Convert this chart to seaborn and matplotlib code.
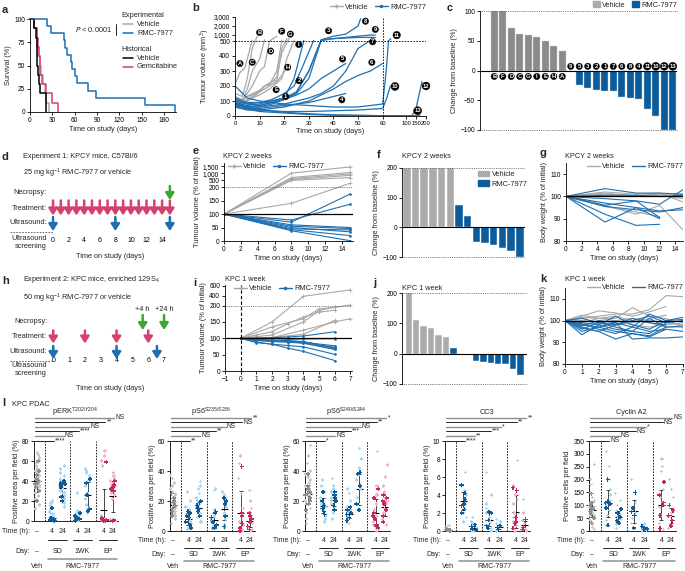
import numpy as np
import pandas as pd
import matplotlib
matplotlib.use('Agg')
import matplotlib.pyplot as plt
import seaborn as sns
from matplotlib.lines import Line2D
from matplotlib.patches import Patch

# ---------------- data ----------------
# a: Kaplan-Meier event times (days)
a_vehicle_days = [6, 9, 10, 11, 13, 15, 17, 20, 22, 26]
a_rmc_days = [23, 28, 45, 47, 49, 55, 57, 60, 63, 78, 88, 155, 195]
a_hist_vehicle_days = [5, 8, 9, 10, 10, 11, 12, 13, 21, 21]
a_gem_days = [5, 9, 11, 12, 13, 14, 16, 21, 29, 37]

# b: individual tumour volumes (mm3)
b_vehicle_ids = ['A', 'B', 'C', 'D', 'E', 'F', 'G', 'H', 'I']
b_vehicle_days = [[0, 2, 4, 7], [0, 3, 5, 7, 9], [0, 3, 5, 7, 10, 12],
                  [0, 3, 5, 7, 10, 12, 14, 17], [0, 3, 5, 7, 10, 12, 14, 17, 19],
                  [0, 3, 5, 7, 10, 12, 14, 17, 19, 21], [0, 3, 5, 7, 10, 12, 14, 17, 19, 22],
                  [0, 3, 5, 7, 10, 12, 14, 17, 19, 21], [0, 3, 5, 7, 10, 12, 14, 17, 19, 21, 24]]
b_vehicle_vols = [[210, 290, 320, 560], [150, 130, 250, 450, 900], [120, 100, 180, 300, 380, 600],
                  [130, 110, 150, 200, 300, 330, 500, 900], [100, 90, 110, 130, 170, 200, 210, 300, 560],
                  [90, 80, 100, 120, 160, 200, 220, 240, 450, 700], [120, 110, 130, 150, 170, 200, 210, 260, 420, 750],
                  [110, 100, 130, 140, 160, 180, 200, 230, 270, 320], [100, 90, 100, 120, 140, 160, 180, 220, 250, 380, 560]]
b_rmc_ids = ['1', '2', '3', '4', '5', '6', '7', '8', '9', '10', '11', '12', '13']
b_rmc_days = [[0, 5, 10, 15, 20, 24, 28], [0, 5, 10, 15, 20, 24, 28, 32],
              [0, 5, 10, 15, 20, 25, 30, 35, 40, 45, 50, 55, 57], [0, 5, 10, 15, 20, 25, 30, 35, 40, 45],
              [0, 5, 10, 15, 20, 25, 30, 35, 40, 45], [0, 5, 10, 15, 20, 25, 30, 35, 40, 45, 50, 55, 60],
              [0, 5, 10, 15, 20, 25, 30, 35, 40, 45, 50, 55], [0, 5, 10, 15, 20, 25, 30, 35, 40, 45, 50, 51],
              [0, 5, 10, 15, 20, 25, 30, 35, 40, 45, 50, 57], [0, 5, 10, 20, 30, 40, 50, 60, 67, 73],
              [0, 5, 10, 20, 30, 40, 50, 60, 66, 70, 74], [0, 10, 20, 30, 40, 60, 100, 130, 150, 180],
              [0, 10, 20, 30, 40, 50, 60, 100, 150, 170]]
b_rmc_vols = [[90, 70, 80, 100, 120, 250, 560], [110, 80, 90, 110, 150, 200, 350, 560],
              [80, 60, 60, 80, 110, 160, 300, 560, 700, 800, 900, 1000, 1000], [70, 50, 50, 60, 70, 80, 90, 110, 130, 150],
              [100, 80, 70, 90, 110, 140, 180, 250, 300, 350], [60, 40, 40, 50, 60, 80, 100, 140, 180, 230, 270, 300, 350],
              [90, 60, 60, 70, 80, 100, 120, 150, 200, 300, 450, 560], [120, 90, 90, 100, 120, 160, 300, 600, 900, 1100, 2000, 2800],
              [80, 60, 70, 90, 110, 150, 250, 550, 700, 750, 800, 800], [80, 50, 40, 30, 30, 35, 40, 50, 120, 200],
              [200, 120, 100, 80, 70, 60, 60, 80, 300, 520, 700], [60, 30, 20, 10, 5, 2, 2, 2, 50, 230],
              [70, 40, 25, 15, 8, 5, 2, 2, 2, 2]]
b_vehicle_label_at = [(2, 350), (10, 1280), (7, 358), (14.5, 433), (16.7, 175), (19, 1430), (22.5, 1100), (21.4, 325), (25.9, 477)]
b_rmc_label_at = [(20.6, 130), (26, 235), (38, 1470), (43.4, 108), (43.7, 380), (55.6, 358), (55.9, 495), (53, 2530),
                  (57, 1620), (81, 197), (84, 990), (200, 200), (158, 35)]

# c: best response (%)
c_vehicle_ids = ['B', 'F', 'D', 'C', 'G', 'I', 'E', 'H', 'A']
c_vehicle_vals = [100, 100, 72, 62, 60, 57, 50, 42, 32]
c_rmc_ids = ['9', '5', '3', '2', '1', '7', '6', '8', '4', '11', '10', '12', '13']
c_rmc_vals = [-1, -25, -30, -33, -34, -35, -45, -46, -48, -64, -77, -100, -100]

# d / h: schedules (days)
d_treatment = list(range(16))
d_ultrasound = [0, 8, 15]
d_necropsy = [15]
h_treatment = [0, 2, 4, 6]
h_ultrasound = [0, 4, 6.55]
h_necropsy = [5.65, 7.0]

# e: KPCY tumour volume (% of initial)
e_days = [0, 8, 15]
e_vehicle = [[100, 1000, 1450], [100, 700, 1050], [100, 620, 950], [100, 560, 850], [100, 500, 700], [100, 140, 380]]
e_rmc = [[100, 70, 175], [100, 78, 137], [100, 60, 50], [100, 55, 46], [100, 45, 41], [100, 50, 34], [100, 42, 20], [100, 38, 1]]

# f: KPCY change from baseline (%)
f_vehicle = [200, 200, 200, 200, 200, 200]
f_rmc = [75, 37, -49, -54, -59, -70, -80, -99]

# g: KPCY body weight (% of initial)
g_days = [0, 5, 9, 12, 15]
g_vehicle = [[100, 101, 100.5, 101, 101], [100, 102, 101, 101.5, 97.5], [100, 96, 92, 96, 85],
             [100, 95.5, 93, 91], [100, 100, 100, 100, 100], [100, 101.5, 100, 100.5, 99]]
g_rmc = [[100, 103.5, 101.5, 101.5, 101], [100, 99, 98, 96.5, 103], [100, 88.5, 95, 90], [100, 92, 87, 87.5],
         [100, 96, 98, 90.5], [100, 97, 95, 93.5, 94], [100, 95.5, 94, 93, 95], [100, 100.5, 100.5, 100, 100.5]]

# i: KPC tumour volume (% of initial)
i_vehicle_days = [[0, 2, 4, 7], [0, 2, 4, 5, 6, 7], [0, 2, 4, 5, 6], [0, 1, 2, 3, 4, 5, 6], [0, 2, 4, 6, 7], [0, 2, 4, 6]]
i_vehicle = [[100, 150, 390, 520], [100, 110, 150, 185, 195, 212], [100, 135, 160, 190, 195],
             [100, 110, 120, 145, 165, 180, 186], [100, 102, 125, 150, 160], [100, 103, 112, 155]]
i_rmc_days = [0, 1, 2, 3, 4, 6]
i_rmc = [[100, 101, 102, 104, 107, 120], [100, 100, 100, 100, 100, 100], [100, 98, 99, 97, 98, 99],
         [100, 95, 92, 90, 88, 77], [100, 97, 94, 92, 89, 72], [100, 96, 93, 93, 90, 70],
         [100, 94, 92, 90, 86, 67], [100, 93, 90, 88, 85, 66], [100, 87, 82, 78, 74, 51], [100, 88, 82, 70, 60, 32]]

# j: KPC change from baseline (%)
j_vehicle = [200, 112, 92, 86, 60, 55]
j_rmc = [20, -1, -1, -23, -28, -30, -33, -34, -49, -71]

# k: KPC body weight (% of initial)
k_days = [0, 1, 2, 3, 4, 5, 6, 7]
k_vehicle = [[100, 101, 102, 103, 103, 105, 111.5, 111], [100, 102, 104.5, 103.5, 102, 104, 106.5],
             [100, 101.5, 101, 101, 106, 102, 101, 96.5], [100, 98, 99, 100, 101, 100, 99, 98],
             [100, 99, 101, 102, 100, 99, 97, 97], [100, 100, 99.5, 98, 99, 101, 102.5],
             [100, 102.5, 101, 100, 98, 97, 98, 99]]
k_rmc = [[100, 93.5, 98, 96, 95, 101, 97], [100, 97, 95, 91.5, 94, 93, 97, 97.5],
         [100, 95, 97, 99, 91.5, 92, 92, 92.5], [100, 99, 98, 102, 98, 96, 100, 101.5],
         [100, 96, 99, 97, 95, 94, 99], [100, 97.5, 100, 99, 97, 103, 100, 100.5],
         [100, 98.5, 96, 94, 97, 95, 96], [100, 101, 99, 98, 100, 102, 99, 100],
         [100, 96.5, 95, 98, 101, 99, 98], [100, 98, 97, 95, 94, 92.5, 96, 95]]

# l: KPC PDAC IHC quantification
l_groups = ['Veh', 'SD4', 'SD24', '1WK4', '1WK24', 'EP4', 'EP24']
l_time = ['–', '4', '24', '4', '24', '4', '24']
perk_light = [[12, 16, 20, 22, 25, 28, 30, 31, 33, 34, 35, 36, 37, 38, 40, 41, 42, 44, 46, 48, 50, 52, 55, 58, 60, 63, 66, 68, 28, 45],
              [0, 0.5, 1, 1.5, 2, 3, 4, 5, 7, 9, 12, 15, 18, 20],
              [14, 18, 22, 25, 28, 30, 32, 34, 36, 38, 40, 42, 45, 48, 52, 55],
              [0, 0.5, 1, 2, 3, 4, 5, 6, 8, 10, 28],
              [8, 12, 16, 22, 28, 35, 40, 45, 48, 50, 52],
              [0, 0.5, 1, 1.5, 2, 3, 5, 55, 60, 65, 70],
              [0, 1, 22, 26, 28, 30, 32, 34, 35, 36, 38, 40, 42, 45, 48]]
perk_dark = [[20, 30, 34, 37, 38, 40, 42, 46, 50, 60], [0, 1, 1.5, 2, 3, 13], [20, 24, 34, 36, 37, 38, 40],
             [0, 1, 2, 3, 5, 8], [10, 12, 26, 38, 42], [0, 0.5, 1, 2, 3, 59], [0, 1, 30, 32, 34, 36, 40]]
perk_sig = ['****', 'NS', '****', 'NS', '**', 'NS']
ps6a_light = [[5, 8, 10, 11, 12, 13, 14, 15, 16, 17, 18, 19, 20, 21, 22, 23, 24, 25, 26, 28, 30, 32, 35, 37],
              [1, 2, 3, 5, 6, 8, 10, 12, 14, 16, 20, 26],
              [6, 9, 12, 14, 16, 18, 20, 22, 25, 28, 30, 33],
              [1, 2, 3, 4, 6, 8, 10, 14, 27, 28],
              [2, 4, 8, 12, 16, 20, 24, 26],
              [0, 1, 2, 4, 6, 10, 15, 25, 35, 45, 50],
              [0, 1, 3, 5, 7, 9, 12, 15, 20, 27]]
ps6a_dark = [[10, 13, 15, 17, 19, 20, 22, 25], [2, 4, 6, 9, 10, 12, 13], [10, 13, 15, 17, 19, 20],
             [2, 4, 6, 9, 12, 13], [3, 10, 18, 20, 22], [0, 2, 5, 10, 12, 43], [1, 3, 6, 8, 10, 12]]
ps6a_sig = ['**', 'NS', '**', 'NS', 'NS', '**']
ps6b_light = [[5, 8, 12, 15, 18, 20, 22, 24, 25, 26, 27, 28, 30, 32, 34, 36, 38, 40, 45, 50, 57, 20, 24],
              [6, 8, 10, 12, 14, 16, 18, 20, 22, 26, 30, 34],
              [8, 12, 15, 18, 20, 22, 24, 26, 28, 30, 35],
              [5, 8, 10, 12, 14, 16, 20, 25, 28],
              [14, 18, 22, 28, 34, 38, 42, 48, 55],
              [0, 2, 4, 6, 8, 10, 14, 18, 24, 30, 53],
              [4, 8, 12, 15, 18, 20, 22, 26, 30, 36, 44]]
ps6b_dark = [[14, 18, 20, 22, 24, 25, 26, 28, 30, 38], [11, 13, 15, 17, 20, 26], [14, 17, 20, 22, 24, 26],
             [7, 9, 11, 12, 14, 16], [14, 18, 30, 38, 39], [2, 4, 8, 10, 12, 22, 28], [6, 10, 14, 18, 20, 22, 24]]
ps6b_sig = ['*', 'NS', '***', 'NS', '**', '*']
cc3_light = [[0, 0.05, 0.1, 0.1, 0.15, 0.2, 0.2, 0.3, 0.4, 0.5, 0.6],
             [1, 1.5, 2, 2.5, 3, 3.5, 4, 4.5, 5, 6.5],
             [0, 0.1, 0.2, 0.4, 0.6, 0.8, 1, 1.5],
             [0, 0.3, 0.6, 1, 1.5, 2, 2.5, 3, 4, 6.5],
             [0, 0.2, 0.4, 0.6, 0.8, 1, 1.3],
             [0, 0.3, 0.6, 1, 1.5, 2, 3, 3.5, 4, 4.5, 5, 7.8],
             [0, 0.2, 0.5, 0.8, 1.2, 2, 3.5]]
cc3_dark = [[0.05, 0.1, 0.15, 0.2], [2, 2.4, 2.8, 3, 3.5, 4.2, 5.1], [0.1, 0.2, 0.3, 0.5, 0.7],
            [0.3, 0.6, 1.2, 2, 2.1], [0.2, 0.4, 0.6], [0.3, 0.8, 1, 1.5, 4.5, 4.8], [0.2, 0.4, 1.3]]
cc3_sig = ['****', '**', '***', '*', '**', '**']
cyc_light = [[5, 15, 25, 35, 45, 55, 60, 65, 70, 75, 80, 85, 90, 95, 100, 105, 110, 120, 130, 150, 180, 200, 260, 40, 60, 90],
             [20, 40, 60, 80, 100, 110, 120, 140, 160, 200, 250, 310],
             [10, 25, 35, 45, 55, 65, 80, 100, 120, 145],
             [10, 30, 50, 70, 80, 90, 110, 150, 200],
             [0, 3, 6, 10, 14, 18, 24, 30],
             [5, 30, 60, 90, 110, 130, 160, 190, 230, 250, 280],
             [10, 25, 40, 55, 70, 85, 100, 130, 160, 200]]
cyc_dark = [[30, 50, 65, 75, 80, 85, 90, 100, 110, 145], [22, 90, 105, 110, 115, 200], [30, 40, 55, 70, 85],
            [12, 60, 75, 90, 150], [5, 8, 12, 18], [10, 60, 100, 110, 140, 190], [20, 40, 60, 80, 100]]
cyc_sig = ['NS', 'NS', 'NS', '*', 'NS', 'NS']

# ---------------- style ----------------
sns.set_style('ticks')
plt.rcParams['font.family'] = ['Liberation Sans', 'DejaVu Sans']
plt.rcParams.update({'font.size': 5.3, 'axes.linewidth': 0.6, 'axes.edgecolor': 'black',
                     'xtick.color': 'black', 'ytick.color': 'black',
                     'xtick.major.width': 0.6, 'ytick.major.width': 0.6,
                     'xtick.major.size': 2, 'ytick.major.size': 2,
                     'xtick.major.pad': 1.5, 'ytick.major.pad': 1.5,
                     'xtick.labelsize': 4.7, 'ytick.labelsize': 4.7, 'axes.labelsize': 5.3,
                     'axes.labelpad': 1.5, 'mathtext.default': 'regular', 'legend.fontsize': 5.3})

GREY = '#a8a8a8'
BLUE = '#1f6fb0'
BAR_GREY = '#8a8a8a'
BAR_GREY_L = '#ababab'
BAR_BLUE = '#0b5c9c'
PINK = '#d4416d'
GREEN = '#3fa535'

W, H = 685, 571
fig = plt.figure(figsize=(W / 100, H / 100), dpi=100)


def box(l, t, r, b):
    return fig.add_axes([l / W, 1 - b / H, (r - l) / W, (b - t) / H])


def ftext(x, y, s, **kw):
    kw.setdefault('va', 'center')
    fig.text(x / W, 1 - y / H, s, **kw)


def piecewise(ax, axis, knots, mapped):
    fwd = lambda v: np.interp(v, knots, mapped)
    inv = lambda v: np.interp(v, mapped, knots)
    if axis == 'x':
        ax.set_xscale('function', functions=(fwd, inv))
    else:
        ax.set_yscale('function', functions=(fwd, inv))


def long_df(days_list, vals_list, group):
    rows = []
    for m, (dd, vv) in enumerate(zip(days_list, vals_list)):
        for d, v in zip(dd, vv):
            rows.append((group, f'{group}{m}', d, v))
    return pd.DataFrame(rows, columns=['grp', 'mouse', 'day', 'val'])


def lines(ax, df, color, marker=None, lw=0.8):
    kw = {}
    if marker:
        kw = dict(marker=marker, markersize=2.5, markeredgecolor=color, markerfacecolor=color, markeredgewidth=0.6)
    sns.lineplot(data=df, x='day', y='val', units='mouse', estimator=None, color=color,
                 lw=lw, legend=False, ax=ax, **kw)


def circle_label(ax, x, y, s, fs=4.2):
    ax.text(x, y, s, ha='center', va='center', color='white', fontsize=fs, fontweight='bold', clip_on=False,
            bbox=dict(boxstyle='circle,pad=0.12', fc='black', ec='black', lw=0.3))


def line_legend(ax, marker=False, **kw):
    h = [Line2D([], [], color=GREY, lw=1, marker='+' if marker else None, markersize=3),
         Line2D([], [], color=BLUE, lw=1, marker='.' if marker else None, markersize=3)]
    ax.legend(h, ['Vehicle', 'RMC-7977'], ncol=2, frameon=False, handlelength=1.8, handletextpad=0.3,
              columnspacing=0.8, borderpad=0, borderaxespad=0, **kw)


for lab, x, y in [('a', 2, 10), ('b', 192, 8), ('c', 447, 8), ('d', 2, 157), ('e', 193, 151), ('f', 377, 155),
                  ('g', 539, 153), ('h', 2, 281), ('i', 193, 283), ('j', 373, 283), ('k', 540, 279), ('l', 2, 403)]:
    ftext(x, y, lab, fontsize=8, fontweight='bold')

# ---------------- a ----------------
ax = box(30, 19, 176, 112)
for days, col in [(a_vehicle_days, GREY), (a_gem_days, PINK), (a_hist_vehicle_days, 'black'), (a_rmc_days, BLUE)]:
    n = len(days)
    xs = [0] + sorted(days)
    ys = [100 - 100 * i / n for i in range(n + 1)]
    ax.step(xs, ys, where='post', color=col, lw=1.1, clip_on=False)
ax.set_xlim(0, 196)
ax.set_ylim(0, 100)
ax.set_xticks(range(0, 181, 30))
ax.set_yticks([0, 25, 50, 75, 100])
ax.set_xlabel('Time on study (days)')
ax.set_ylabel('Survival (%)')
sns.despine(ax=ax)
tr = ax.transAxes
ax.text(0.623, 1.043, 'Experimental', transform=tr, va='center')
ax.text(0.623, 0.677, 'Historical', transform=tr, va='center')
for fy, col, lab in [(0.946, GREY, 'Vehicle'), (0.849, BLUE, 'RMC-7977'), (0.58, 'black', 'Vehicle'), (0.484, PINK, 'Gemcitabine')]:
    ax.plot([0.637, 0.705], [fy, fy], color=col, lw=1.1, transform=tr, clip_on=False)
    ax.text(0.733, fy, lab, transform=tr, va='center')
ax.plot([0.59, 0.59], [0.83, 0.95], color='black', lw=0.6, transform=tr, clip_on=False)
ax.text(0.56, 0.885, '$\\it{P}$ < 0.0001', transform=tr, va='center', ha='right')

# ---------------- b ----------------
ax = box(235, 17, 426, 116)
lines(ax, long_df(b_vehicle_days, b_vehicle_vols, 'veh'), GREY, lw=0.9)
lines(ax, long_df(b_rmc_days, b_rmc_vols, 'rmc'), BLUE, lw=0.9)
piecewise(ax, 'x', [-100, 0, 60, 100, 200, 400], [-100, 0, 60, 69.5, 77.6, 93.8])
piecewise(ax, 'y', [-1000, 0, 500, 1000, 3000, 5000], [-1000, 0, 500, 540, 660, 780])
ax.set_xlim(0, 200)
ax.set_ylim(0, 3000)
ax.set_xticks([0, 10, 20, 30, 40, 50, 60, 100, 150, 200])
ax.set_yticks([0, 100, 200, 300, 400, 500, 1000, 2000, 3000])
ax.set_yticklabels(['0', '100', '200', '300', '400', '500', '1,000', '2,000', '3,000'])
ax.tick_params(axis='x', labelsize=4.2)
ax.axhline(500, color='black', lw=0.6, ls=(0, (2, 1.5)))
ax.axvline(60, color='black', lw=0.6, ls=(0, (2, 1.5)))
for (x, y), s in zip(b_vehicle_label_at, b_vehicle_ids):
    circle_label(ax, x, y, s)
for (x, y), s in zip(b_rmc_label_at, b_rmc_ids):
    circle_label(ax, x, y, s)
ax.set_xlabel('Time on study (days)')
ax.set_ylabel('Tumour volume (mm$^3$)')
sns.despine(ax=ax)
line_legend(ax, marker=True, loc='lower right', bbox_to_anchor=(1.0, 1.06))

# ---------------- c ----------------
ax = box(480, 11, 677, 130)
c_vals = c_vehicle_vals + c_rmc_vals
c_grp = ['Vehicle'] * len(c_vehicle_vals) + ['RMC-7977'] * len(c_rmc_vals)
sns.barplot(x=list(range(len(c_vals))), y=c_vals, hue=c_grp, palette={'Vehicle': BAR_GREY, 'RMC-7977': BAR_BLUE},
            dodge=False, width=0.86, saturation=1, legend=False, ax=ax, edgecolor='#d0d0d0', linewidth=0.3)
ax.set_xlim(-1.68, 21.5)
ax.set_ylim(-100, 100)
for yy in (100, -100):
    ax.axhline(yy, color='#555555', lw=0.6, ls=(0, (1, 1.2)), clip_on=False)
ax.axhline(0, color='black', lw=0.8)
for i, s in enumerate(c_vehicle_ids):
    circle_label(ax, i, -10, s)
for i, s in enumerate(c_rmc_ids):
    circle_label(ax, i + len(c_vehicle_ids), 7, s)
ax.set_xticks([])
ax.set_yticks([-100, -50, 0, 50, 100])
ax.set_ylabel('Change from baseline (%)')
sns.despine(ax=ax, bottom=True)
ax.legend([Patch(color=BAR_GREY_L), Patch(color=BAR_BLUE)], ['Vehicle', 'RMC-7977'], ncol=2, frameon=False,
          loc='lower right', bbox_to_anchor=(1.0, 1.02), handlelength=1.0, handleheight=0.8, handletextpad=0.3,
          columnspacing=0.8, borderpad=0, borderaxespad=0)


# ---------------- d / h schematics ----------------
def arrow(ax, x, y0, y1, col):
    ax.annotate('', xy=(x, y1), xytext=(x, y0), annotation_clip=False,
                arrowprops=dict(arrowstyle='-|>,head_width=0.32,head_length=0.5', mutation_scale=8,
                                color=col, lw=1.8, shrinkA=0, shrinkB=0))


def schedule(ax, rows, dash_y, dash_x0, screen_y):
    x_lab = -0.8 * (ax.get_xlim()[1] - ax.get_xlim()[0]) / 16.7
    for name, y in rows:
        ax.text(x_lab, y, name, ha='right', va='center')
    ax.plot([dash_x0, 0], [dash_y, dash_y], color='#555555', lw=0.6, ls=(0, (2, 1.5)), clip_on=False)
    ax.text(x_lab, screen_y, 'Ultrasound\nscreening', ha='right', va='center', multialignment='right', linespacing=1.3)
    ax.tick_params(axis='x', length=0, pad=1, labelsize=5)
    ax.set_yticks([])
    for s in ax.spines.values():
        s.set_visible(False)
    ax.set_facecolor('none')


ax = box(45, 180, 175, 236)
ax.set_xlim(-1.03, 15.66)
ax.set_ylim(236, 180)
for x in d_treatment:
    arrow(ax, x, 200.5, 215.5, PINK)
for x in d_ultrasound:
    arrow(ax, x, 217, 231, BLUE)
for x in d_necropsy:
    arrow(ax, x, 186, 200, GREEN)
ax.set_xticks(range(0, 15, 2))
schedule(ax, [('Necropsy:', 192), ('Treatment:', 208), ('Ultrasound:', 223)], 232, -5.5, 242.5)
ax.set_xlabel('Time on study (days)', labelpad=6)
ftext(23, 157, 'Experiment 1: KPCY mice, C57Bl/6')
ftext(23, 173, '25 mg kg$^{-1}$ RMC-7977 or vehicle')

ax = box(45, 305, 175, 356)
ax.set_xlim(-0.52, 7.69)
ax.set_ylim(356, 305)
for x in h_treatment:
    arrow(ax, x, 330.5, 343.5, PINK)
for x in h_ultrasound:
    arrow(ax, x, 346, 359, BLUE)
for x in h_necropsy:
    arrow(ax, x, 315, 330, GREEN)
ax.text(h_necropsy[0], 310, '+4 h', ha='center', va='center')
ax.text(h_necropsy[1], 310, '+24 h', ha='center', va='center')
ax.set_xticks(range(0, 8))
schedule(ax, [('Necropsy:', 322), ('Treatment:', 337), ('Ultrasound:', 352)], 361, -2.7, 369.5)
ax.set_xlabel('Time on study (days)', labelpad=15)
ftext(23, 280, 'Experiment 2: KPC mice, enriched 129S$_4$')
ftext(23, 298, '50 mg kg$^{-1}$ RMC-7977 or vehicle')

# ---------------- e ----------------
ax = box(224, 163, 353, 241)
lines(ax, long_df([e_days] * len(e_vehicle), e_vehicle, 'veh'), GREY, marker='+')
lines(ax, long_df([e_days] * len(e_rmc), e_rmc, 'rmc'), BLUE, marker='.')
piecewise(ax, 'y', [-1000, 0, 200, 500, 1000, 1500, 3000], [-1000, 0, 200, 225, 252, 278, 358])
ax.set_xlim(0, 15.3)
ax.set_ylim(0, 1720)
ax.axhline(100, color='black', lw=0.9)
ax.axhline(200, color='#555555', lw=0.6, ls=(0, (1, 1.2)))
ax.set_xticks(range(0, 15, 2))
ax.set_yticks([0, 50, 100, 150, 200, 500, 1000, 1500])
ax.set_yticklabels(['0', '50', '100', '150', '200', '500', '1,000', '1,500'])
ax.set_xlabel('Time on study (days)')
ax.set_ylabel('Tumour volume (% of initial)')
sns.despine(ax=ax)
line_legend(ax, marker=True, loc='upper left', bbox_to_anchor=(0.03, 1.0))
ftext(223, 157, 'KPCY 2 weeks')


# ---------------- f / j bars ----------------
def waterfall(ax, veh, rmc, xlim, title_xy, title):
    vals = veh + rmc
    grp = ['Vehicle'] * len(veh) + ['RMC-7977'] * len(rmc)
    sns.barplot(x=list(range(len(vals))), y=vals, hue=grp, palette={'Vehicle': BAR_GREY_L, 'RMC-7977': BAR_BLUE},
                dodge=False, width=0.86, saturation=1, legend=False, ax=ax, edgecolor='white', linewidth=0.3)
    ax.set_xlim(*xlim)
    ax.set_ylim(-100, 200)
    for yy in (200, -100):
        ax.axhline(yy, color='#555555', lw=0.6, ls=(0, (1, 1.2)), clip_on=False)
    ax.axhline(0, color='black', lw=0.8)
    ax.set_xticks([])
    ax.set_yticks([-100, 0, 100, 200])
    ax.set_ylabel('Change from baseline (%)')
    sns.despine(ax=ax, bottom=True)
    ftext(*title_xy, title)


ax = box(402, 168, 525, 257)
waterfall(ax, f_vehicle, f_rmc, (-0.55, 13.6), (402, 156), 'KPCY 2 weeks')
ax.legend([Patch(color=BAR_GREY_L), Patch(color=BAR_BLUE)], ['Vehicle', 'RMC-7977'], frameon=False,
          loc='upper right', bbox_to_anchor=(1.02, 0.97), handlelength=1.6, handleheight=0.8, handletextpad=0.3,
          borderpad=0, borderaxespad=0, labelspacing=0.3)

ax = box(402, 293, 527, 384)
waterfall(ax, j_vehicle, j_rmc, (-0.9, 15.86), (402, 289), 'KPC 1 week')


# ---------------- g / k body weight ----------------
def body(ax, days, veh, rmc, xmax, xticks, title_xy, title, leg_y):
    lines(ax, long_df([days] * len(veh), veh, 'veh'), GREY, lw=0.8)
    lines(ax, long_df([days] * len(rmc), rmc, 'rmc'), BLUE, lw=0.8)
    ax.axhline(100, color='black', lw=0.9)
    ax.set_xlim(0, xmax)
    ax.set_ylim(80, 115)
    ax.set_xticks(xticks)
    ax.set_yticks([80, 90, 100, 110])
    ax.set_xlabel('Time on study (days)')
    ax.set_ylabel('Body weight (% of initial)')
    sns.despine(ax=ax)
    line_legend(ax, loc='upper right', bbox_to_anchor=(1.0, leg_y))
    ftext(*title_xy, title)


ax = box(566, 163, 683, 241)
body(ax, g_days, g_vehicle, g_rmc, 15, range(0, 15, 2), (565, 156), 'KPCY 2 weeks', 1.0)
ax = box(565, 288, 683, 364)
body(ax, k_days, k_vehicle, k_rmc, 7, range(0, 8), (565, 279), 'KPC 1 week', 1.05)

# ---------------- i ----------------
ax = box(225, 285, 352, 371)
lines(ax, long_df(i_vehicle_days, i_vehicle, 'veh'), GREY, marker='+')
lines(ax, long_df([i_rmc_days] * len(i_rmc), i_rmc, 'rmc'), BLUE, marker='.')
piecewise(ax, 'y', [-1000, 0, 200, 400, 600, 2000], [-1000, 0, 200, 230, 260, 470])
ax.set_xlim(-1, 7.1)
ax.set_ylim(0, 620)
ax.axhline(100, color='black', lw=0.9)
ax.axhline(200, color='#555555', lw=0.6, ls=(0, (1, 1.2)))
ax.axvline(0, color='black', lw=0.8, ls=(0, (3, 2)))
ax.set_xticks(range(-1, 8))
ax.set_yticks([0, 50, 100, 150, 200, 400, 600])
ax.set_xlabel('Time on study (days)')
ax.set_ylabel('Tumour volume (% of initial)')
sns.despine(ax=ax)
line_legend(ax, marker=True, loc='upper left', bbox_to_anchor=(0.07, 1.0))
ftext(225, 280, 'KPC 1 week')

# ---------------- l ----------------
l_pos = [0, 1.5, 2.5, 4.0, 5.0, 6.6, 7.5]
light_cols = ['#c9c9c9', '#a9d8f5', '#a9d8f5', '#a9d8f5', '#a9d8f5', '#f5b3c6', '#f5b3c6']
dark_cols = ['#8c8c8c', '#0d5a99', '#0d5a99', '#0d5a99', '#0d5a99', '#c7285a', '#c7285a']
ftext(12, 404, 'KPC PDAC')

l_panels = [
    ('pERK$^{T202/Y204}$', 'Positive area per field (%)', perk_light, perk_dark, perk_sig, [0, 20, 40, 60, 80],
     (34, 441, 118, 521), (531.7, 540, 551.7, 559, 566.7)),
    ('pS6$^{S235/S236}$', 'Positive area per field (%)', ps6a_light, ps6a_dark, ps6a_sig, [0, 20, 40, 60],
     (170, 441, 255, 531), (541, 548, 555, 560.5, 566.7)),
    ('pS6$^{S240/S244}$', 'Positive area per field (%)', ps6b_light, ps6b_dark, ps6b_sig, [0, 20, 40, 60],
     (305, 441, 390, 531), (541, 548, 555, 560.5, 566.7)),
    ('CC3', 'Positive area per field (%)', cc3_light, cc3_dark, cc3_sig, [0, 2, 4, 6, 8, 10],
     (445, 441, 530, 531), (541, 548, 555, 560.5, 566.7)),
    ('Cyclin A2', 'Positive cells per field', cyc_light, cyc_dark, cyc_sig, [0, 50, 100, 150, 200, 250, 300, 350],
     (589, 441, 676, 531), (541, 548, 555, 560.5, 566.7)),
]

for title, ylab, light, dark, sig, yticks, bx, rows in l_panels:
    ax = box(*bx)
    hpx = bx[3] - bx[1]
    for vals_list, cols, size in [(light, light_cols, 2.2), (dark, dark_cols, 3.0)]:
        df = pd.DataFrame([(l_pos[g], v, l_groups[g]) for g, vv in enumerate(vals_list) for v in vv],
                          columns=['x', 'v', 'g'])
        sns.stripplot(data=df, x='x', y='v', hue='g', palette=dict(zip(l_groups, cols)), native_scale=True,
                      orient='x', jitter=0.3, size=size, marker='P', linewidth=0, legend=False, ax=ax, clip_on=False)
    for g, vv in enumerate(dark):
        m, s = np.mean(vv), np.std(vv)
        ax.errorbar(l_pos[g], m, yerr=s, fmt='none', ecolor='black', elinewidth=0.5, capsize=1.3, capthick=0.5)
        ax.hlines(m, l_pos[g] - 0.35, l_pos[g] + 0.35, color='black', lw=0.8)
    for xd in (0.8, 3.3, 5.8):
        ax.axvline(xd, color='black', lw=0.6, ls=(0, (2, 1.5)))
    ax.set_xlim(-0.3, 8.0)
    ax.set_ylim(0, yticks[-1])
    ax.set_yticks(yticks)
    ax.set_xticks([])
    ax.set_xlabel('')
    ax.set_ylabel(ylab)
    sns.despine(ax=ax)
    tr = ax.get_xaxis_transform()
    yf = lambda px: (bx[3] - px) / hpx
    t_y, pl_y, d_y, gl_y, v_y = rows
    for p, t in zip(l_pos, l_time):
        ax.text(p, yf(t_y), t, transform=tr, ha='center', va='center', fontsize=5)
    ax.text(-0.7, yf(t_y), 'Time (h):', transform=tr, ha='right', va='center', fontsize=5)
    ax.text(-0.7, yf(d_y), 'Day:', transform=tr, ha='right', va='center', fontsize=5)
    ax.text(0, yf(d_y), '–', transform=tr, ha='center', va='center', fontsize=5)
    for a, b, lab in [(l_pos[1], l_pos[2], 'SD'), (l_pos[3], l_pos[4], '1WK'), (l_pos[5], l_pos[6], 'EP')]:
        ax.plot([a - 0.45, b + 0.45], [yf(pl_y)] * 2, transform=tr, color='black', lw=0.6, clip_on=False)
        ax.text((a + b) / 2, yf(d_y), lab, transform=tr, ha='center', va='center', fontsize=5)
    ax.plot([l_pos[1] - 0.45, l_pos[6] + 0.45], [yf(gl_y)] * 2, transform=tr, color='#9a9a9a', lw=1.2, clip_on=False)
    ax.text(0, yf(v_y), 'Veh', transform=tr, ha='center', va='center', fontsize=5)
    ax.text((l_pos[1] + l_pos[6]) / 2, yf(v_y), 'RMC-7977', transform=tr, ha='center', va='center', fontsize=5)
    for k, lab in enumerate(sig):
        yy = 1 + (0.5 + 4.6 * k) / hpx
        col, lw = ('black', 0.6) if k % 2 == 0 else ('#8f8f8f', 1.0)
        ax.plot([l_pos[0] - 0.25, l_pos[k + 1] + 0.15], [yy, yy], transform=tr, color=col, lw=lw, clip_on=False)
        ax.text(l_pos[k + 1] + 0.25, yy, lab, transform=tr, ha='left', va='center', fontsize=4.8)
    ax.text((l_pos[0] + l_pos[6]) / 2, 1 + 29 / hpx, title, transform=tr, ha='center', va='center')

fig.savefig('out.png', dpi=100)
